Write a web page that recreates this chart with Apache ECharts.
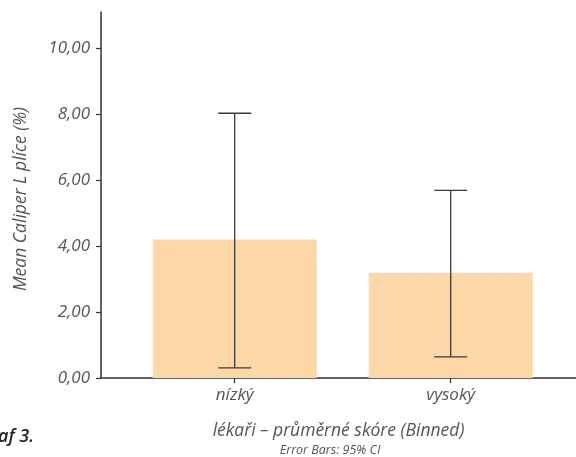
<!DOCTYPE html>
<html>
<head>
<meta charset="utf-8">
<script src="https://cdn.jsdelivr.net/npm/echarts@6/dist/echarts.min.js"></script>
<style>
html,body{margin:0;padding:0;background:#fff;}
#c{width:576px;height:457px;}
</style>
</head>
<body>
<div id="c"></div>
<script>
const categories = ['nízký', 'vysoký'];
const means = [4.20, 3.19];
const ciLower = [0.31, 0.64];
const ciUpper = [8.03, 5.69];
const yTicks = [0, 2, 4, 6, 8, 10];

const positions = categories.map((c, i) => i + 1);
const barData = positions.map((p, i) => [p, means[i]]);
const errData = positions.map((p, i) => [p, ciLower[i], ciUpper[i]]);

const txt = '#555555';
const font = '"Open Sans"';

const chart = echarts.init(document.getElementById('c'), null, {renderer: 'canvas'});
chart.setOption({
  animation: false,
  grid: {left: 101, right: 0, top: 12, bottom: 79, containLabel: false},
  xAxis: {
    type: 'value',
    min: 0.381,
    max: 2.58,
    name: 'lékaři – průměrné skóre (Binned)',
    nameLocation: 'middle',
    nameGap: 44,
    nameTextStyle: {color: txt, fontFamily: font, fontStyle: 'italic', fontSize: 17.5},
    axisLine: {show: true, onZero: false, lineStyle: {color: '#333', width: 1.5}},
    axisTick: {show: true, customValues: positions, length: 5, lineStyle: {color: '#333', width: 1.2}},
    axisLabel: {
      customValues: positions,
      margin: 9,
      color: txt, fontFamily: font, fontStyle: 'italic', fontSize: 17,
      formatter: v => categories[Math.round(v) - 1] || ''
    },
    splitLine: {show: false}
  },
  yAxis: {
    type: 'value',
    min: 0,
    max: 11.1,
    name: 'Mean Caliper L plíce (%)',
    nameLocation: 'middle',
    nameGap: 71,
    nameTextStyle: {color: txt, fontFamily: font, fontStyle: 'italic', fontSize: 17.5, padding: [0, 8, 0, 0]},
    axisLine: {show: true, lineStyle: {color: '#333', width: 1.5}},
    axisTick: {show: true, customValues: yTicks, length: 5, lineStyle: {color: '#333', width: 1.2}},
    axisLabel: {
      customValues: yTicks,
      margin: 11,
      color: txt, fontFamily: font, fontStyle: 'italic', fontSize: 17,
      formatter: v => v.toFixed(2).replace('.', ',')
    },
    splitLine: {show: false}
  },
  series: [
    {
      type: 'bar',
      data: barData,
      barWidth: 164,
      itemStyle: {color: '#FCD8A6'},
      z: 1
    },
    {
      type: 'custom',
      data: errData,
      z: 5,
      renderItem: function (params, api) {
        const x = api.value(0);
        const lo = api.coord([x, api.value(1)]);
        const hi = api.coord([x, api.value(2)]);
        const hw = 16.5;
        const style = {stroke: '#3a3a3a', lineWidth: 1.3};
        return {
          type: 'group',
          children: [
            {type: 'line', shape: {x1: lo[0], y1: lo[1], x2: hi[0], y2: hi[1]}, style: style},
            {type: 'line', shape: {x1: lo[0] - hw, y1: lo[1], x2: lo[0] + hw, y2: lo[1]}, style: style},
            {type: 'line', shape: {x1: hi[0] - hw, y1: hi[1], x2: hi[0] + hw, y2: hi[1]}, style: style}
          ]
        };
      }
    }
  ],
  graphic: [
    {type: 'text', x: 330, y: 450, style: {text: 'Error Bars: 95% CI', fill: txt, font: 'italic 12.5px "Open Sans"', textAlign: 'center', textVerticalAlign: 'middle'}},
    {type: 'text', x: 34, y: 437, style: {text: 'Graf 3.', fill: '#222', font: 'italic 600 18px "Open Sans"', textAlign: 'right', textVerticalAlign: 'middle'}}
  ]
});
</script>
</body>
</html>
